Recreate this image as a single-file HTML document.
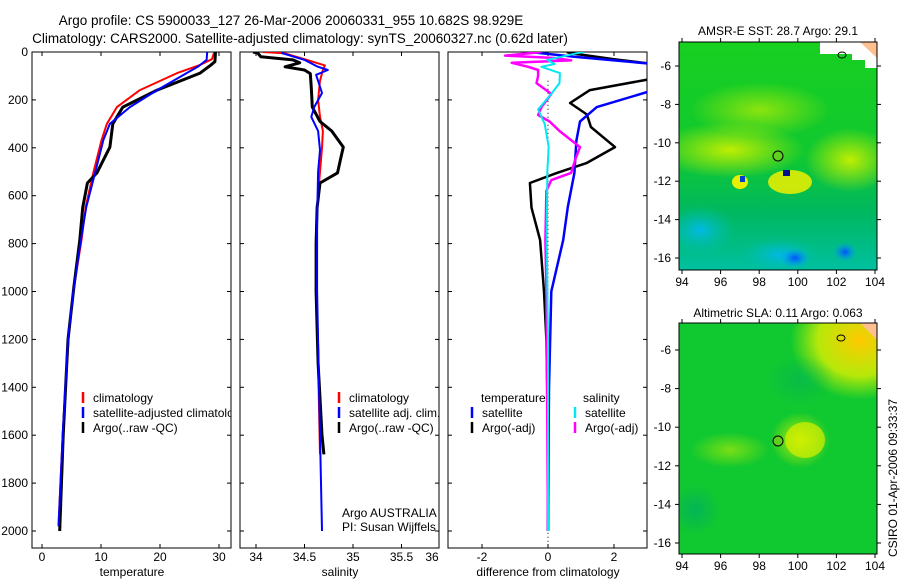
<!DOCTYPE html>
<html><head><meta charset="utf-8"><style>
body{margin:0;background:#fff;}
svg{display:block;font-family:"Liberation Sans",sans-serif;}
</style></head><body>
<svg id="c" width="900" height="580" xmlns="http://www.w3.org/2000/svg">
<defs>
<radialGradient id="gy1"><stop offset="0" stop-color="#c8f000" stop-opacity="0.95"/><stop offset="1" stop-color="#c8f000" stop-opacity="0"/></radialGradient>
<radialGradient id="gc1"><stop offset="0" stop-color="#00b8e8" stop-opacity="1"/><stop offset="1" stop-color="#00c0b0" stop-opacity="0"/></radialGradient>
<radialGradient id="gb1"><stop offset="0" stop-color="#0050ff" stop-opacity="1"/><stop offset="1" stop-color="#00a0ff" stop-opacity="0"/></radialGradient>
<radialGradient id="gyo"><stop offset="0" stop-color="#ffc800" stop-opacity="1"/><stop offset="0.6" stop-color="#e0f000" stop-opacity="0.8"/><stop offset="1" stop-color="#c0f000" stop-opacity="0"/></radialGradient>
<radialGradient id="gdg"><stop offset="0" stop-color="#00b060" stop-opacity="0.8"/><stop offset="1" stop-color="#00b060" stop-opacity="0"/></radialGradient>
<linearGradient id="sstbg" x1="0" y1="0" x2="0" y2="1"><stop offset="0" stop-color="#18d020"/><stop offset="0.5" stop-color="#10c830"/><stop offset="0.75" stop-color="#00b860"/><stop offset="1" stop-color="#00c0a0"/></linearGradient>
<clipPath id="m1"><rect x="679" y="42" width="198" height="228"/></clipPath>
<clipPath id="m2"><rect x="679" y="323" width="198" height="231"/></clipPath>
<clipPath id="p1"><rect x="32" y="52" width="199" height="496"/></clipPath>
<clipPath id="p2"><rect x="240" y="52" width="199" height="496"/></clipPath>
<clipPath id="p3"><rect x="448" y="52" width="199" height="496"/></clipPath>
</defs>
<text x="291" y="25" font-size="13.5" text-anchor="middle">Argo profile: CS 5900033_127 26-Mar-2006 20060331_955 10.682S 98.929E</text>
<text x="300" y="43" font-size="13.5" text-anchor="middle">Climatology: CARS2000. Satellite-adjusted climatology: synTS_20060327.nc (0.62d later)</text>
<g id="axes"></g>
<g id="series"></g>
<g id="maps">
<g clip-path="url(#m1)">
<rect x="679" y="42" width="198" height="228" fill="url(#sstbg)"/>
<ellipse cx="730" cy="150" rx="75" ry="28" fill="url(#gy1)"/>
<ellipse cx="760" cy="110" rx="70" ry="28" fill="url(#gy1)" opacity="0.7"/>
<ellipse cx="850" cy="160" rx="45" ry="32" fill="url(#gy1)"/>
<ellipse cx="790" cy="182" rx="22" ry="12" fill="#f0f000" opacity="0.85"/>
<ellipse cx="740" cy="182" rx="8" ry="7" fill="#e8f000"/>
<ellipse cx="700" cy="230" rx="35" ry="25" fill="url(#gc1)"/>
<ellipse cx="780" cy="255" rx="40" ry="18" fill="url(#gc1)"/>
<ellipse cx="795" cy="258" rx="15" ry="10" fill="url(#gb1)"/>
<ellipse cx="845" cy="252" rx="12" ry="10" fill="url(#gb1)"/>
<rect x="783" y="170" width="7" height="6" fill="#001090"/>
<rect x="740" y="176" width="5" height="6" fill="#0040d0"/>
<path d="M820 42 L877 42 L877 68 L865 68 L865 60 L852 60 L852 54 L820 54 Z" fill="#fff"/>
<path d="M860 42 L877 42 L877 58 Z" fill="#ffc090"/>
<ellipse cx="842" cy="55" rx="4" ry="3" fill="none" stroke="#000"/>
<circle cx="778" cy="156" r="5" fill="#60d020" stroke="#000"/>
</g>
<g clip-path="url(#m2)">
<rect x="679" y="323" width="198" height="231" fill="#10c830"/>
<ellipse cx="860" cy="340" rx="70" ry="60" fill="url(#gyo)"/>
<ellipse cx="800" cy="440" rx="30" ry="28" fill="url(#gy1)"/>
<ellipse cx="805" cy="440" rx="20" ry="18" fill="#d8f000" opacity="0.7"/>
<ellipse cx="730" cy="450" rx="40" ry="18" fill="url(#gy1)" opacity="0.6"/>
<ellipse cx="695" cy="510" rx="25" ry="25" fill="url(#gdg)"/>
<ellipse cx="800" cy="380" rx="35" ry="25" fill="url(#gdg)" opacity="0.6"/>
<path d="M860 323 L877 323 L877 340 Z" fill="#ffc090"/>
<ellipse cx="841" cy="338" rx="4" ry="3" fill="none" stroke="#000"/>
<circle cx="778" cy="441" r="5" fill="#60d020" stroke="#000"/>
</g>
<text x="778" y="35" font-size="12" text-anchor="middle">AMSR-E SST: 28.7 Argo: 29.1</text>
<text x="778" y="317" font-size="12" text-anchor="middle">Altimetric SLA: 0.11 Argo: 0.063</text>
<text transform="translate(897,557) rotate(-90)" font-size="12">CSIRO 01-Apr-2006 09:33:37</text>
</g>
</svg>
<script>
// ---- data ----
const depthTicks=[0,200,400,600,800,1000,1200,1400,1600,1800,2000];
const tempTicks=[0,10,20,30];
const salTicks=[34,34.5,35,35.5,36];
const salTickLabels=["34","34.5","35","35.5","36"];
const diffTicks=[-2,0,2];
const lonTicks=[94,96,98,100,102,104];
const latTicks=[-6,-8,-10,-12,-14,-16];

const tempArgoD=[0,40,55,88,159,230,300,397,505,547,650,785,980,1200,1600,2000];
const tempArgoV=[29.4,29.3,28.6,26.8,19.5,13.7,12,11.5,9.3,7.7,6.9,6.4,5.4,4.4,3.6,3.0];
const tempClimD=[0,30,54,88,159,230,300,367,505,647,785,1000,1200,1600,1980];
const tempClimV=[29.2,28.8,26.8,22.9,16.6,12.7,11,10.1,8.7,7.4,6.7,5.3,4.5,3.5,2.8];
const tempSatD=[0,33,60,88,159,230,300,367,505,647,785,1000,1200,1600,1980];
const tempSatV=[28,27.9,26.5,24.5,19.5,14.9,11.5,10.4,9,7.5,6.6,5.3,4.4,3.5,2.8];

const salArgoD=[0,5,20,33,45,62,75,90,150,230,290,330,397,450,505,547,650,800,1000,1300,1600,1680];
const salArgoV=[33.97,34.02,34.05,34.38,34.45,34.3,34.5,34.56,34.57,34.58,34.66,34.78,34.9,34.87,34.84,34.66,34.63,34.62,34.62,34.64,34.68,34.7];
const salClimD=[0,5,30,56,75,120,200,270,330,400,500,647,800,1000,1300,1680];
const salClimV=[34.07,34.29,34.5,34.71,34.69,34.66,34.64,34.66,34.69,34.68,34.66,34.63,34.62,34.62,34.64,34.66];
const salSatD=[0,5,33,60,75,95,171,230,271,330,409,500,700,1000,1400,2000];
const salSatV=[34.27,34.27,34.5,34.63,34.74,34.62,34.68,34.6,34.57,34.64,34.66,34.64,34.63,34.63,34.65,34.68];

const dtArgoD=[0,5,30,50,60,108,159,213,261,313,397,463,505,547,650,785,1000,1200,1600,2000];
const dtArgoV=[0.57,0.7,2,3.2,3.5,3.3,1.27,0.67,1.18,1.3,2.03,1.18,0.27,-0.55,-0.5,-0.24,-0.12,-0.05,0,0];
const dtSatD=[0,20,50,100,159,230,290,370,505,647,785,1000,1400,2000];
const dtSatV=[-0.55,0.8,3.2,3.4,3.2,1.48,0.97,0.86,0.8,0.6,0.46,0.1,0.03,0];
const dsArgoD=[0,5,15,25,35,45,62,75,100,130,175,230,263,290,330,397,440,505,535,580,785,1000,1550,2000];
const dsArgoV=[-0.2,-0.55,-1.3,0.2,0.7,-1.1,-0.6,-0.3,-0.3,-0.35,0.1,-0.2,-0.3,0.05,0.35,0.97,0.85,0.7,0.1,-0.05,-0.08,-0.05,-0.02,0];
const dsSatD=[0,5,20,33,50,62,88,130,175,240,300,397,500,785,1200,2000];
const dsSatV=[1.1,0.88,0.4,-0.02,0.2,-0.2,0.36,0.35,0.1,-0.3,-0.1,0.02,-0.02,-0.04,0,0];

// ---- scales ----
const yD=d=>52+d*0.2395;
const xT=v=>42+v*5.9;
const xS=v=>256+(v-34)*97;
const xDf=v=>548+v*33;
const mx1=l=>682+(l-94)*19.3;
const myS=l=>66+(-6-l)*19.2;
const myA=l=>350+(-6-l)*19.3;

const NS="http://www.w3.org/2000/svg";
const axes=document.getElementById('axes');
const ser=document.getElementById('series');
function mk(tag,attrs,parent,txt){const e=document.createElementNS(NS,tag);for(const k in attrs)e.setAttribute(k,attrs[k]);if(txt!==undefined)e.textContent=txt;parent.appendChild(e);return e;}

const panels=[[32,'temperature',tempTicks,tempTicks.map(String),xT,'temperature-panel'],[240,'salinity',salTicks,salTickLabels,xS,'salinity-panel'],[448,'difference from climatology',diffTicks,diffTicks.map(String),xDf,'difference-panel']];
panels.forEach((p,i)=>{
  const g=mk('g',{},axes);
  
  
  const fr=mk('rect',{x:p[0],y:52,width:199,height:496,fill:'none',stroke:'#000','stroke-width':1},g);
  
  
  depthTicks.forEach(d=>{
    mk('line',{x1:p[0],x2:p[0]+4,y1:yD(d),y2:yD(d),stroke:'#000'},g);
    mk('line',{x1:p[0]+199,x2:p[0]+195,y1:yD(d),y2:yD(d),stroke:'#000'},g);
  });
  p[2].forEach((v,k)=>{
    const x=p[4](v);
    if(x<=p[0]+199){
      mk('line',{x1:x,x2:x,y1:548,y2:544,stroke:'#000'},g);
      mk('line',{x1:x,x2:x,y1:52,y2:56,stroke:'#000'},g);
    }
    const lx=Math.min(x,p[0]+192);
    const t=mk('text',{x:lx,y:561,'font-size':12,'text-anchor':'middle'},g,p[3][k]);
    
    
  });
  const xt=mk('text',{x:p[0]+100,y:576,'font-size':12,'text-anchor':'middle'},g,p[1]);
  
  
});
depthTicks.forEach(d=>{
  const t=mk('text',{x:28,y:yD(d)+4,'font-size':12,'text-anchor':'end'},axes,String(d));
  
  
});
const zl=mk('line',{x1:xDf(0),x2:xDf(0),y1:yD(120),y2:548,stroke:'#000','stroke-dasharray':'1,3'},axes);



function line(D,V,xf,col,w,clip,name){
  const pts=D.map((d,i)=>xf(V[i]).toFixed(1)+','+yD(d).toFixed(1)).join(' ');
  const e=mk('polyline',{points:pts,fill:'none',stroke:col,'stroke-width':w,'stroke-linejoin':'round','clip-path':'url(#'+clip+')'},ser);
  
  
}
line(tempClimD,tempClimV,xT,'#ff0000',2,'p1','temp-climatology-line');
line(tempArgoD,tempArgoV,xT,'#000',3,'p1','temp-argo-line');
line(tempSatD,tempSatV,xT,'#0000ff',2,'p1','temp-satellite-line');
line(salClimD,salClimV,xS,'#ff0000',2,'p2','sal-climatology-line');
line(salArgoD,salArgoV,xS,'#000',3,'p2','sal-argo-line');
line(salSatD,salSatV,xS,'#0000ff',2,'p2','sal-satellite-line');
line(dtArgoD,dtArgoV,xDf,'#000',2.5,'p3','temp-diff-argo-line');
line(dtSatD,dtSatV,xDf,'#0000ff',2.5,'p3','temp-diff-satellite-line');
line(dsArgoD,dsArgoV,xDf,'#ff00ff',2.5,'p3','sal-diff-argo-line');
line(dsSatD,dsSatV,xDf,'#00e8f0',2,'p3','sal-diff-satellite-line');

function leg(x,y,col,txt,name,clip){
  const g=mk('g',{'clip-path':'url(#'+clip+')'},ser);
  
  
  mk('line',{x1:x,x2:x,y1:y-10,y2:y+1,stroke:col,'stroke-width':2.5},g);
  if(txt) mk('text',{x:x+10,y:y,'font-size':12},g,txt);
}
leg(83,402,'#ff0000','climatology','legend-climatology','p1');
leg(83,417,'#0000ff','satellite-adjusted climatology','legend-satellite-adjusted','p1');
leg(83,432,'#000','Argo(..raw -QC)','legend-argo','p1');
leg(339,402,'#ff0000','climatology','legend-sal-climatology','p2');
leg(339,417,'#0000ff','satellite adj. clim.','legend-sal-satellite','p2');
leg(339,432,'#000','Argo(..raw -QC)','legend-sal-argo','p2');
mk('text',{x:481,y:402,'font-size':12},ser,'temperature');
mk('text',{x:583,y:402,'font-size':12},ser,'salinity');
leg(472,417,'#0000ff','satellite','legend-diff-temp-satellite','p3');
leg(472,432,'#000','Argo(-adj)','legend-diff-temp-argo','p3');
leg(575,417,'#00e8f0','satellite','legend-diff-sal-satellite','p3');
leg(575,432,'#ff00ff','Argo(-adj)','legend-diff-sal-argo','p3');
mk('text',{x:342,y:517,'font-size':12},ser,'Argo AUSTRALIA');
mk('text',{x:342,y:531,'font-size':12},ser,'PI: Susan Wijffels');

function mapAxes(top,h,yf,name){
  const g=mk('g',{},document.getElementById('maps'));
  
  
  mk('rect',{x:679,y:top,width:198,height:h,fill:'none',stroke:'#000'},g);
  lonTicks.forEach(l=>{
    const x=mx1(l);
    mk('line',{x1:x,x2:x,y1:top+h,y2:top+h+4,stroke:'#000'},g);
    mk('line',{x1:x,x2:x,y1:top,y2:top-4,stroke:'#000'},g);
    mk('text',{x:x,y:top+h+16,'font-size':12,'text-anchor':'middle'},g,String(l));
  });
  latTicks.forEach(l=>{
    const y=yf(l);
    mk('line',{x1:679,x2:675,y1:y,y2:y,stroke:'#000'},g);
    mk('line',{x1:877,x2:881,y1:y,y2:y,stroke:'#000'},g);
    mk('text',{x:671,y:y+4,'font-size':12,'text-anchor':'end'},g,String(l));
  });
}
mapAxes(42,228,myS,'sst-map-axes');
mapAxes(323,231,myA,'sla-map-axes');
</script>
</body></html>
